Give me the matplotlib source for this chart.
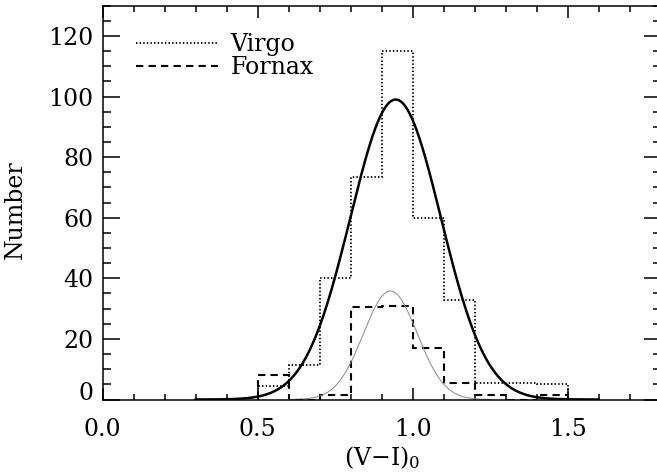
import numpy as np
import matplotlib
matplotlib.use("Agg")
import matplotlib.pyplot as plt
from matplotlib.ticker import MultipleLocator, FormatStrFormatter
from matplotlib.lines import Line2D

plt.rcParams['font.family'] = ['DejaVu Serif']
plt.rcParams['mathtext.fontset'] = 'dejavuserif'

# Histogram bins in (V-I)_0
bin_edges = [0.5, 0.6, 0.7, 0.8, 0.9, 1.0, 1.1, 1.2, 1.3, 1.4, 1.5]
virgo_counts = [4.5, 11.5, 40, 73.5, 115, 60, 33, 5.5, 5.5, 5]
fornax_counts = [8, 0, 1.5, 30.5, 31, 17, 5.5, 1.5, 0, 1.5]

# Gaussian fits: amplitude, mean, sigma, x-range
virgo_fit = dict(amp=99.0, mean=0.945, sigma=0.146, xmin=0.3, xmax=1.6)
fornax_fit = dict(amp=35.8, mean=0.928, sigma=0.087, xmin=0.6, xmax=1.25)

legend_labels = ['Virgo', 'Fornax']
x_label = r'(V$-$I)$_0$'
y_label = 'Number'


def gauss_curve(p, n=300):
    x = np.linspace(p['xmin'], p['xmax'], n)
    return x, p['amp'] * np.exp(-0.5 * ((x - p['mean']) / p['sigma']) ** 2)


fig = plt.figure(figsize=(6.57, 4.76), dpi=100)
ax = fig.add_axes([0.1563, 0.1607, 0.8493, 0.8275])

dot_style = (0, (0.8, 1.2))
dash_style = (0, (3.5, 2.5))

ax.stairs(virgo_counts, bin_edges, baseline=0, color='black',
          linestyle=dot_style, linewidth=1.3)
ax.stairs(fornax_counts, bin_edges, baseline=0, color='black',
          linestyle=dash_style, linewidth=1.5)

xv, yv = gauss_curve(virgo_fit)
ax.plot(xv, yv, color='black', linewidth=1.8)
xf, yf = gauss_curve(fornax_fit)
ax.plot(xf, yf, color='#888888', linewidth=0.7)

ax.set_xlim(0, 1.8)
ax.set_ylim(0, 130)
ax.xaxis.set_major_locator(MultipleLocator(0.5))
ax.xaxis.set_minor_locator(MultipleLocator(0.1))
ax.yaxis.set_major_locator(MultipleLocator(20))
ax.yaxis.set_minor_locator(MultipleLocator(5))
ax.xaxis.set_major_formatter(FormatStrFormatter('%.1f'))

ax.tick_params(axis='both', which='both', direction='in', top=True, right=True,
               labelsize=17, width=1.1)
ax.tick_params(axis='x', which='major', length=8.6, pad=13.5)
ax.tick_params(axis='x', which='minor', length=4.3)
ax.tick_params(axis='y', which='major', length=12, pad=6.5)
ax.tick_params(axis='y', which='minor', length=6)
for s in ax.spines.values():
    s.set_linewidth(1.1)

fig.canvas.draw()
for lab in ax.get_yticklabels():
    if lab.get_text() in ('0', '−0'):
        lab.set_verticalalignment('baseline')

ax.set_xlabel(x_label, fontsize=17, labelpad=2)
ax.set_ylabel(y_label, fontsize=17)
ax.yaxis.set_label_coords(-0.135, 0.483)

handles = [Line2D([], [], color='black', linestyle=dot_style, linewidth=1.3),
           Line2D([], [], color='black', linestyle=dash_style, linewidth=1.5)]
ax.legend(handles, legend_labels, loc='upper left', frameon=False,
          fontsize=17, handlelength=3.45, handletextpad=0.55,
          labelspacing=0.0, borderpad=0, borderaxespad=0,
          bbox_to_anchor=(0.06, 0.93))

fig.savefig('out.png', dpi=100)
